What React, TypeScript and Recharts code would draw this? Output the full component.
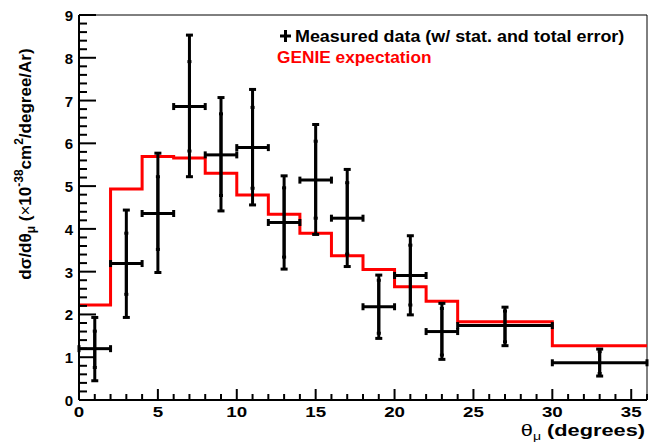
import React from 'react';
import {
  ComposedChart,
  Line,
  Scatter,
  ErrorBar,
  XAxis,
  YAxis,
  ReferenceLine,
} from 'recharts';

// theta_mu bin edges (degrees)
const binEdges = [0, 2, 4, 6, 8, 10, 12, 14, 16, 18, 20, 22, 24, 30, 36];
// GENIE expectation per bin
const genie = [2.22, 4.93, 5.69, 5.66, 5.3, 4.79, 4.34, 3.9, 3.37, 3.05, 2.65, 2.31, 1.83, 1.27];
// measured cross section per bin, with stat and total error limits
const measured = [1.2, 3.19, 4.36, 6.86, 5.73, 5.9, 4.15, 5.14, 4.25, 2.18, 2.91, 1.6, 1.74, 0.87];
const statLow = [0.76, 2.47, 3.52, 5.82, 4.78, 4.95, 3.34, 4.25, 3.41, 1.56, 2.22, 1.05, 1.36, 0.62];
const statHigh = [1.61, 3.9, 5.22, 7.91, 6.69, 6.84, 4.96, 6.05, 5.08, 2.8, 3.62, 2.14, 2.08, 1.13];
const totalLow = [0.45, 1.93, 2.98, 5.22, 4.42, 4.56, 3.06, 3.87, 3.12, 1.44, 1.99, 0.95, 1.27, 0.56];
const totalHigh = [1.93, 4.44, 5.77, 8.53, 7.07, 7.26, 5.24, 6.44, 5.39, 2.92, 3.84, 2.26, 2.17, 1.19];

const xLabels = [0, 5, 10, 15, 20, 25, 30, 35];
const yLabels = [0, 1, 2, 3, 4, 5, 6, 7, 8, 9];

const FONT = '"Liberation Sans", Arial, Helvetica, sans-serif';

const genieData = binEdges.map((e, i) => ({
  x: e,
  y: genie[Math.min(i, genie.length - 1)],
}));

const points = measured.map((v, i) => {
  const lo = binEdges[i];
  const hi = binEdges[i + 1];
  const half = (hi - lo) / 2;
  return {
    x: lo + half,
    y: v,
    ex: [half, half],
    stat: [v - statLow[i], statHigh[i] - v],
    tot: [v - totalLow[i], totalHigh[i] - v],
  };
});

// minor ticks: x every 1 degree, y every 0.2
const xTicks: number[] = [];
for (let i = 0; i <= 36; i++) xTicks.push(i);
const yTicks: number[] = [];
for (let i = 0; i <= 45; i++) yTicks.push(Math.round(i * 20) / 100);

const isMajor = (v: number, labels: number[]) =>
  labels.some((l) => Math.abs(l - v) < 1e-6);

const XTick = (props: any) => {
  const { x, y, payload } = props;
  const major = isMajor(payload.value, xLabels);
  return (
    <g>
      <line x1={x} x2={x} y1={y} y2={y - (major ? 11 : 6)} stroke='#000' strokeWidth={2} />
      {major && (
        <text
          transform={`translate(${x},${y + 17}) scale(1.25,1)`}
          textAnchor='middle'
          fontFamily={FONT}
          fontWeight='bold'
          fontSize={15}
          fill='#000'
        >
          {payload.value}
        </text>
      )}
    </g>
  );
};

const YTick = (props: any) => {
  const { x, y, payload } = props;
  const major = isMajor(payload.value, yLabels);
  return (
    <g>
      <line x1={x} x2={x + (major ? 17 : 8)} y1={y} y2={y} stroke='#000' strokeWidth={2} />
      {major && (
        <text
          x={x - 6}
          y={y + 6}
          textAnchor='end'
          fontFamily={FONT}
          fontWeight='bold'
          fontSize={15}
          fill='#000'
        >
          {payload.value}
        </text>
      )}
    </g>
  );
};

export default function App() {
  return (
    <div
      style={{
        position: 'absolute',
        left: 0,
        top: 0,
        width: 662,
        height: 444,
        background: '#fff',
      }}
    >
      <ComposedChart
        width={662}
        height={444}
        margin={{ top: 15, right: 15, left: 0, bottom: 0 }}
      >
        <XAxis
          type='number'
          dataKey='x'
          domain={[0, 36]}
          allowDataOverflow
          ticks={xTicks}
          interval={0}
          tickSize={0}
          tickMargin={0}
          tick={<XTick />}
          height={44}
          axisLine={{ stroke: '#000', strokeWidth: 2 }}
        />
        <YAxis
          type='number'
          dataKey='y'
          domain={[0, 9]}
          allowDataOverflow
          ticks={yTicks}
          interval={0}
          tickSize={0}
          tickMargin={0}
          tick={<YTick />}
          width={79}
          axisLine={{ stroke: '#000', strokeWidth: 2 }}
        />
        <ReferenceLine y={9} stroke='#000' strokeWidth={1} />
        <ReferenceLine x={36} stroke='#000' strokeWidth={1} />
        <Line
          data={genieData}
          dataKey='y'
          type='stepAfter'
          stroke='#ff0000'
          strokeWidth={3}
          dot={false}
          isAnimationActive={false}
        />
        <Scatter
          data={points}
          dataKey='y'
          shape={() => <g />}
          isAnimationActive={false}
        >
          <ErrorBar dataKey='ex' direction='x' width={3.5} stroke='#000' strokeWidth={3} />
          <ErrorBar dataKey='tot' direction='y' width={3.5} stroke='#000' strokeWidth={3} />
          <ErrorBar dataKey='stat' direction='y' width={2} stroke='#000' strokeWidth={3} />
        </Scatter>
      </ComposedChart>

      <svg
        width={662}
        height={444}
        style={{ position: 'absolute', left: 0, top: 0, pointerEvents: 'none' }}
      >
        <text
          transform='translate(31,164) rotate(-90)'
          textAnchor='middle'
          fontFamily={FONT}
          fontWeight='bold'
          fontSize={17}
          fill='#000'
        >
          dσ/dθ
          <tspan dy={4} fontSize={12}>μ</tspan>
          <tspan dy={-4}> (</tspan>
          <tspan fontWeight='normal'>×</tspan>
          <tspan>10</tspan>
          <tspan dy={-8} fontSize={12}>-38</tspan>
          <tspan dy={8}>cm</tspan>
          <tspan dy={-8} fontSize={12}>2</tspan>
          <tspan dy={8}>/degree/Ar)</tspan>
        </text>
        <text
          transform='translate(645,436) scale(1.28,1)'
          textAnchor='end'
          fontFamily={FONT}
          fontSize={17}
          fill='#000'
        >
          θ
          <tspan dy={4} fontSize={11}>μ</tspan>
          <tspan dy={-4} fontWeight='bold'> (degrees)</tspan>
        </text>
        <line x1={280} x2={291} y1={36} y2={36} stroke='#000' strokeWidth={3} />
        <line x1={285.5} x2={285.5} y1={30} y2={42} stroke='#000' strokeWidth={3} />
        <text
          transform='translate(295,42) scale(1.12,1)'
          fontFamily={FONT}
          fontWeight='bold'
          fontSize={16}
          fill='#000'
        >
          Measured data (w/ stat. and total error)
        </text>
        <text
          transform='translate(277,63) scale(1.08,1)'
          fontFamily={FONT}
          fontWeight='bold'
          fontSize={16}
          fill='#ff0000'
        >
          GENIE expectation
        </text>
      </svg>
    </div>
  );
}
